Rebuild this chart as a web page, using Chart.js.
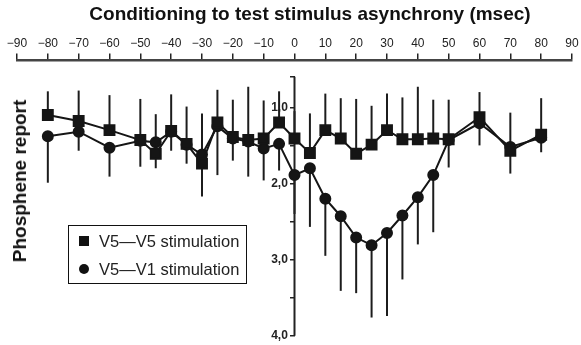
<!DOCTYPE html>
<html><head><meta charset="utf-8">
<script src="https://cdn.jsdelivr.net/npm/chart.js@4/dist/chart.umd.min.js"></script>
<style>
html,body{margin:0;padding:0;background:#fff;}
#wrap{position:relative;width:581px;height:345px;overflow:hidden;}
#c{position:absolute;left:0;top:0;}
#xtitle{position:absolute;left:0;top:3px;width:620px;text-align:center;line-height:22px;font:bold 19px "Liberation Sans",Arial,sans-serif;white-space:nowrap;color:#111;}
#ytitle{position:absolute;left:20px;top:181px;transform:translate(-50%,-50%) rotate(-90deg);font:bold 19px "Liberation Sans",Arial,sans-serif;white-space:nowrap;color:#111;}
#legend{position:absolute;left:68px;top:225px;width:179px;height:59px;border:1.5px solid #111;box-sizing:border-box;font:16.5px "Liberation Sans",Arial,sans-serif;color:#222;}
.item{position:absolute;left:0;height:20px;line-height:20px;white-space:nowrap;}
.mk{position:absolute;background:#111;}
.txt{position:absolute;left:30px;top:0;}
</style></head>
<body><div id="wrap"><canvas id="c" width="581" height="345"></canvas>
<div id="xtitle"></div>
<div id="ytitle"></div>
<div id="legend"></div></div>
<script>
const xTitle = 'Conditioning to test stimulus asynchrony (msec)';
const yTitle = 'Phosphene report';
const seriesNames = ['V5\u2014V5 stimulation', 'V5\u2014V1 stimulation'];
const xValues = [-80,-70,-60,-50,-45,-40,-35,-30,-25,-20,-15,-10,-5,0,5,10,15,20,25,30,35,40,45,50,60,70,80];
const v5v5 = [1.10,1.18,1.30,1.43,1.61,1.31,1.48,1.74,1.20,1.39,1.43,1.41,1.20,1.41,1.60,1.30,1.41,1.61,1.49,1.30,1.42,1.42,1.41,1.42,1.13,1.57,1.36];
const v5v5ErrEnd = [0.79,0.78,0.84,0.89,1.09,0.83,0.99,1.08,0.77,0.90,0.73,0.91,0.79,1.05,1.08,0.82,0.88,0.89,0.98,0.82,0.87,0.73,0.90,0.90,0.80,1.07,0.88];
const v5v1 = [1.38,1.32,1.53,1.44,1.46,1.32,1.49,1.62,1.25,1.41,1.45,1.54,1.48,1.89,1.80,2.20,2.43,2.71,2.81,2.65,2.42,2.18,1.89,1.43,1.21,1.52,1.40];
const v5v1ErrEnd = [1.99,1.57,1.91,1.78,1.80,1.57,1.74,2.17,1.89,1.70,1.91,1.96,1.83,2.40,2.57,2.95,3.41,3.44,3.76,3.74,3.26,2.80,2.64,1.79,1.50,1.87,1.59];
const yTickValues = [0.6,1.0,1.5,2.0,2.5,3.0,3.5,4.0];
const yLabelValues = [1,2,3,4];

document.getElementById('xtitle').textContent = xTitle;
document.getElementById('ytitle').textContent = yTitle;
const leg = document.getElementById('legend');
seriesNames.forEach((n,i)=>{
  const it = document.createElement('div'); it.className='item'; it.style.top = (i===0?5:33)+'px'; it.style.width='175px';
  const mk = document.createElement('div'); mk.className='mk';
  if(i===0){mk.style.cssText+='left:10px;top:5px;width:10px;height:10px;';}
  else {mk.style.cssText+='left:10px;top:5px;width:10px;height:10px;border-radius:50%;';}
  const t = document.createElement('div'); t.className='txt'; t.textContent=n;
  it.appendChild(mk); it.appendChild(t); leg.appendChild(it);
});

const errorBars = {
  id:'errorBars',
  beforeDatasetsDraw(chart){
    const {ctx, scales:{x,y}} = chart;
    ctx.save();
    ctx.strokeStyle='#1c1c1c'; ctx.lineWidth=2;
    const draw=(vals,ends)=>vals.forEach((v,i)=>{
      const px=x.getPixelForValue(xValues[i]);
      ctx.beginPath(); ctx.moveTo(px,y.getPixelForValue(v)); ctx.lineTo(px,y.getPixelForValue(ends[i])); ctx.stroke();
    });
    draw(v5v5,v5v5ErrEnd); draw(v5v1,v5v1ErrEnd);
    const ax = x.getPixelForValue(0);
    ctx.strokeStyle='#222'; ctx.lineWidth=2;
    ctx.beginPath(); ctx.moveTo(ax,y.getPixelForValue(yTickValues[0])); ctx.lineTo(ax,y.getPixelForValue(yTickValues[yTickValues.length-1])); ctx.stroke();
    ctx.restore();
  }
};

new Chart(document.getElementById('c'), {
  type:'scatter',
  data:{datasets:[
    {label:seriesNames[0], data:xValues.map((xv,i)=>({x:xv,y:v5v5[i]})), showLine:true, borderColor:'#151515', backgroundColor:'#151515', borderWidth:2, pointStyle:'rect', pointRadius:7, pointHoverRadius:7},
    {label:seriesNames[1], data:xValues.map((xv,i)=>({x:xv,y:v5v1[i]})), showLine:true, borderColor:'#151515', backgroundColor:'#151515', borderWidth:2, pointStyle:'circle', pointRadius:5, pointHoverRadius:5}
  ]},
  options:{
    responsive:false, animation:false, devicePixelRatio:1,
    layout:{padding:{left:17,right:6,top:33,bottom:7}},
    plugins:{legend:{display:false}, tooltip:{enabled:false}},
    scales:{
      x:{type:'linear', position:'top', min:-90, max:90,
        afterFit:s=>{s.paddingRight=2; s.paddingLeft=2;},
        ticks:{stepSize:10, color:'#222', font:{family:'"Liberation Sans", Arial, sans-serif', size:12}, padding:3, maxRotation:0,
          callback:v=> v<0 ? '\u2212'+Math.abs(v) : String(v)},
        grid:{drawOnChartArea:false, drawTicks:true, tickLength:7, color:'#222', lineWidth:1.5},
        border:{display:true, color:'#444', width:2.5}
      },
      y:{type:'linear', reverse:true, min:0.384, max:4.0, position:{x:0},
        afterBuildTicks:s=>{s.ticks = yTickValues.map(v=>({value:v}));},
        ticks:{color:'#222', font:{family:'"Liberation Sans", Arial, sans-serif', size:12, weight:'bold'}, padding:2,
          callback:v=> yLabelValues.includes(Math.round(v*10)/10) ? v.toFixed(1).replace('.',',')+'\u00a0\u00a0' : ''},
        grid:{drawOnChartArea:false, drawTicks:true, tickLength:5, color:'#222', lineWidth:1.5},
        border:{display:false}
      }
    }
  },
  plugins:[errorBars]
});
</script></body></html>
